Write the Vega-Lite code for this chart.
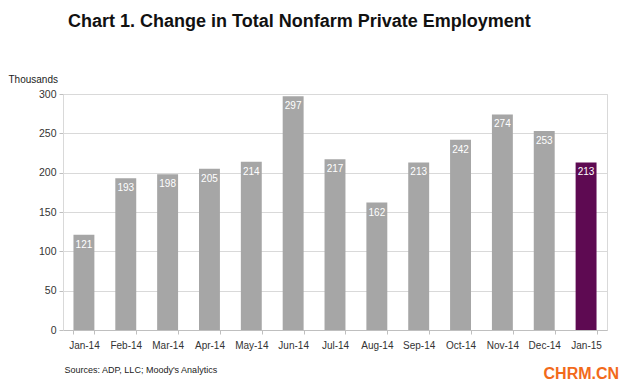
{
  "$schema": "https://vega.github.io/schema/vega-lite/v6.json",
  "autosize": "none",
  "width": 544,
  "height": 236,
  "padding": {"left": 63, "top": 94, "right": 22, "bottom": 62},
  "background": "white",
  "config": {
    "font": "Liberation Sans",
    "view": {"stroke": "#d9d9d9", "strokeWidth": 1}
  },
  "title": {
    "text": "Chart 1. Change in Total Nonfarm Private Employment",
    "anchor": "start",
    "frame": "group",
    "dx": 5,
    "offset": 43,
    "fontSize": 18,
    "fontWeight": "bold",
    "color": "#111111",
    "font": "Liberation Sans"
  },
  "data": {
    "values": [
      {"month": "Jan-14", "value": 121, "latest": "no"},
      {"month": "Feb-14", "value": 193, "latest": "no"},
      {"month": "Mar-14", "value": 198, "latest": "no"},
      {"month": "Apr-14", "value": 205, "latest": "no"},
      {"month": "May-14", "value": 214, "latest": "no"},
      {"month": "Jun-14", "value": 297, "latest": "no"},
      {"month": "Jul-14", "value": 217, "latest": "no"},
      {"month": "Aug-14", "value": 162, "latest": "no"},
      {"month": "Sep-14", "value": 213, "latest": "no"},
      {"month": "Oct-14", "value": 242, "latest": "no"},
      {"month": "Nov-14", "value": 274, "latest": "no"},
      {"month": "Dec-14", "value": 253, "latest": "no"},
      {"month": "Jan-15", "value": 213, "latest": "yes"}
    ]
  },
  "encoding": {
    "x": {
      "field": "month",
      "type": "nominal",
      "sort": null,
      "scale": {"paddingInner": 0.5, "paddingOuter": 0.25},
      "axis": {
        "title": "Sources: ADP, LLC; Moody's Analytics",
        "titleAnchor": "start",
        "titleAlign": "left",
        "titleX": 1,
        "titleY": 35,
        "titleFontSize": 9,
        "titleFontWeight": "normal",
        "titleColor": "#222222",
        "labelAngle": 0,
        "labelFontSize": 10,
        "labelColor": "#333333",
        "labelPadding": 6,
        "tickBand": "extent",
        "tickSize": 4,
        "tickColor": "#bfbfbf",
        "domainColor": "#bfbfbf"
      }
    },
    "y": {
      "field": "value",
      "type": "quantitative",
      "scale": {"domain": [0, 300]},
      "axis": {
        "values": [0, 50, 100, 150, 200, 250, 300],
        "title": "Thousands",
        "titleAngle": 0,
        "titleAlign": "left",
        "titleBaseline": "middle",
        "titleX": -55,
        "titleY": -15,
        "titleFontSize": 10,
        "titleFontWeight": "normal",
        "titleColor": "#222222",
        "labelFontSize": 10.5,
        "labelColor": "#333333",
        "labelPadding": 3,
        "tickSize": 4,
        "tickColor": "#bfbfbf",
        "domainColor": "#d9d9d9",
        "gridColor": "#d9d9d9"
      }
    }
  },
  "layer": [
    {
      "mark": {"type": "bar"},
      "encoding": {
        "color": {
          "field": "latest",
          "type": "nominal",
          "scale": {"domain": ["no", "yes"], "range": ["#a6a6a6", "#5e0a52"]},
          "legend": null
        }
      }
    },
    {
      "mark": {"type": "text", "baseline": "top", "dy": 5, "color": "white", "fontSize": 10},
      "encoding": {"text": {"field": "value", "type": "quantitative"}}
    },
    {
      "data": {"values": [{"month": "Jan-15", "value": -56, "label": "CHRM.CN"}]},
      "mark": {"type": "text", "color": "#f26a1b", "fontSize": 16, "fontWeight": "bold", "align": "right", "baseline": "middle", "dx": 33, "clip": false},
      "encoding": {"text": {"field": "label"}}
    }
  ]
}
